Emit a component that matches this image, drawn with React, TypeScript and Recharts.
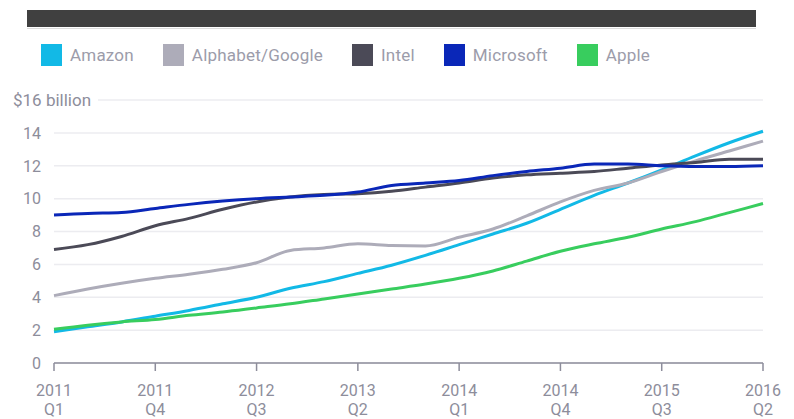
import React from 'react';
import { LineChart, Line, XAxis, YAxis, CartesianGrid } from 'recharts';

const quarters = [
  '2011 Q1', '2011 Q2', '2011 Q3', '2011 Q4',
  '2012 Q1', '2012 Q2', '2012 Q3', '2012 Q4',
  '2013 Q1', '2013 Q2', '2013 Q3', '2013 Q4',
  '2014 Q1', '2014 Q2', '2014 Q3', '2014 Q4',
  '2015 Q1', '2015 Q2', '2015 Q3', '2015 Q4',
  '2016 Q1', '2016 Q2',
];

// quarterly revenue, $ billion
const amazon = [1.9, 2.2, 2.5, 2.85, 3.2, 3.6, 4.0, 4.55, 4.95, 5.45, 5.95, 6.55, 7.2, 7.85, 8.5, 9.35, 10.2, 10.95, 11.75, 12.6, 13.4, 14.1];
const alphabet = [4.1, 4.5, 4.85, 5.15, 5.4, 5.7, 6.1, 6.85, 7.0, 7.25, 7.15, 7.12, 7.65, 8.15, 8.95, 9.8, 10.5, 10.95, 11.65, 12.3, 12.9, 13.5];
const intel = [6.9, 7.2, 7.7, 8.35, 8.8, 9.35, 9.8, 10.1, 10.25, 10.3, 10.45, 10.7, 10.95, 11.25, 11.45, 11.55, 11.65, 11.85, 12.05, 12.2, 12.4, 12.4];
const microsoft = [9.0, 9.1, 9.15, 9.4, 9.65, 9.85, 10.0, 10.1, 10.2, 10.4, 10.8, 10.95, 11.1, 11.4, 11.65, 11.85, 12.1, 12.1, 12.0, 11.95, 11.95, 12.0];
const apple = [2.05, 2.3, 2.5, 2.65, 2.9, 3.1, 3.35, 3.6, 3.9, 4.2, 4.5, 4.8, 5.15, 5.6, 6.2, 6.8, 7.25, 7.65, 8.15, 8.6, 9.15, 9.7];

const yTicks = [0, 2, 4, 6, 8, 10, 12, 14, 16];

const series = [
  { key: 'amazon', name: 'Amazon', color: '#12b9e6', values: amazon },
  { key: 'alphabet', name: 'Alphabet/Google', color: '#adacb9', values: alphabet },
  { key: 'intel', name: 'Intel', color: '#4b4a57', values: intel },
  { key: 'microsoft', name: 'Microsoft', color: '#0a27b8', values: microsoft },
  { key: 'apple', name: 'Apple', color: '#38cd5e', values: apple },
];

const data = quarters.map((q, i) => {
  const row: any = { quarter: q };
  series.forEach((s) => { row[s.key] = s.values[i]; });
  return row;
});

const TEXT = '#8d8d9b';
const FONT = 'Roboto, "Noto Sans", sans-serif';

const XTick = (props: any) => {
  const { x, y, payload } = props;
  const [year, q] = String(payload.value).split(' ');
  return (
    <g>
      <text x={x} y={y + 23} textAnchor="middle" fill={TEXT} fontSize={16} fontFamily={FONT}>{year}</text>
      <text x={x} y={y + 42} textAnchor="middle" fill={TEXT} fontSize={16} fontFamily={FONT}>{q}</text>
    </g>
  );
};

const YTick = (props: any) => {
  const { x, y, payload } = props;
  if (payload.value === 16) {
    // the top label is wider, so the gridline starts after it
    return (
      <g>
        <rect x={x - 30} y={y - 10} width={87} height={20} fill="#fff" />
        <text x={x - 28} y={y} dy="0.36em" textAnchor="start" fill={TEXT} fontSize={17} fontFamily={FONT}>$16 billion</text>
      </g>
    );
  }
  return (
    <text x={x} y={y} dy="0.36em" textAnchor="end" fill={TEXT} fontSize={16} fontFamily={FONT}>{payload.value}</text>
  );
};

export default function App() {
  return (
    <div style={{ position: 'absolute', left: 0, top: 0, width: 794, height: 419, background: '#fff', fontFamily: FONT }}>
      <div style={{ position: 'absolute', left: 27, top: 10, width: 729, height: 17, background: '#404040' }} />
      <div style={{ position: 'absolute', left: 27, top: 28, width: 729, height: 1, background: '#dcdcdc' }} />

      <div style={{ position: 'absolute', left: 41, top: 44, display: 'flex', alignItems: 'center', gap: 29 }}>
        {series.map((s) => (
          <div key={s.key} style={{ display: 'flex', alignItems: 'center' }}>
            <span style={{ display: 'inline-block', width: 21, height: 22, background: s.color, marginRight: 8 }} />
            <span style={{ color: '#9c9caa', fontSize: 17, lineHeight: '22px', letterSpacing: 0.2 }}>{s.name}</span>
          </div>
        ))}
      </div>

      <div style={{ position: 'absolute', left: 0, top: 0 }}>
        <LineChart width={794} height={419} data={data} margin={{ top: 100, right: 31, bottom: 0, left: 0 }}>
          <CartesianGrid vertical={false} stroke="#ececf0" strokeWidth={1.5} />
          <XAxis
            dataKey="quarter"
            interval={2}
            height={56}
            tickSize={8}
            tickMargin={2}
            axisLine={{ stroke: TEXT, strokeWidth: 1.5 }}
            tickLine={{ stroke: TEXT, strokeWidth: 1.5 }}
            tick={<XTick />}
          />
          <YAxis
            domain={[0, 16]}
            ticks={yTicks}
            width={54}
            axisLine={false}
            tickLine={false}
            tickSize={0}
            tickMargin={13}
            tick={<YTick />}
          />
          {series.map((s) => (
            <Line
              key={s.key}
              type="monotone"
              dataKey={s.key}
              stroke={s.color}
              strokeWidth={3}
              dot={false}
              isAnimationActive={false}
            />
          ))}
        </LineChart>
      </div>
    </div>
  );
}
